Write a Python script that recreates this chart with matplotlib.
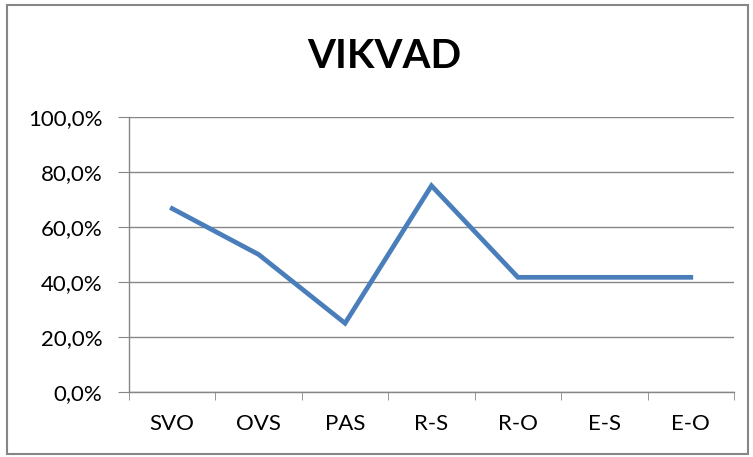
import numpy as np
import matplotlib.pyplot as plt
from matplotlib.ticker import FuncFormatter, FixedLocator
from matplotlib.patches import Rectangle

categories = ['SVO', 'OVS', 'PAS', 'R-S', 'R-O', 'E-S', 'E-O']
values = [66.7, 50.0, 25.0, 75.0, 41.7, 41.7, 41.7]
yticks = [0, 20, 40, 60, 80, 100]

plt.rcParams['font.family'] = ['Lato', 'DejaVu Sans']

fig = plt.figure(figsize=(7.53, 4.57), dpi=100)
ax = fig.add_axes([129/753, 65/457, 605/753, 275/457])

x = np.arange(len(categories))
ax.plot(x, values, color='#4a7ebb', linewidth=3.4, solid_joinstyle='miter', zorder=3)

ax.set_xlim(-0.5, len(categories) - 0.5)
ax.set_ylim(0, 100)
ax.set_yticks(yticks)
ax.yaxis.set_major_formatter(FuncFormatter(lambda v, p: f'{v:.1f}%'.replace('.', ',')))
ax.grid(axis='y', color='#868686', linewidth=1)
ax.set_axisbelow(True)

ax.set_xticks(x)
ax.set_xticklabels(categories)
ax.xaxis.set_minor_locator(FixedLocator(np.arange(-0.5, len(categories), 1)))
ax.tick_params(axis='x', which='major', length=0, pad=16, labelsize=16)
ax.tick_params(axis='x', which='minor', length=6, color='#868686', direction='out')
ax.tick_params(axis='y', length=8, color='#868686', labelsize=16, pad=11)

for s in ['top', 'right']:
    ax.spines[s].set_visible(False)
for s in ['left', 'bottom']:
    ax.spines[s].set_color('#868686')
    ax.spines[s].set_linewidth(1)

fig.text(384/753, 1 - 56/457, 'VIKVAD', ha='center', va='center',
         fontsize=29, fontweight='bold')

fig.patches.append(Rectangle((7/753, 3/457), 741/753, 449/457, transform=fig.transFigure,
                             fill=False, edgecolor='#868686', linewidth=1.5))

fig.savefig('out.png', dpi=100)
